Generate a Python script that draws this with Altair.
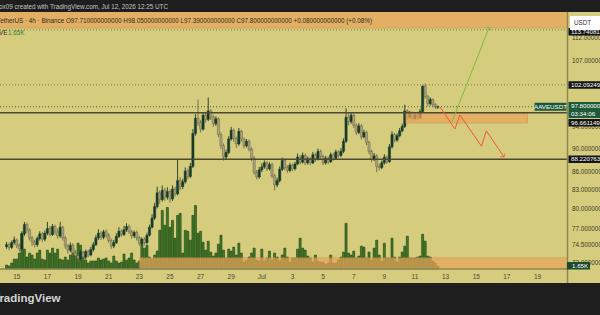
import altair as alt
import pandas as pd

# ---------------- data ----------------
first_open = 74.3
closes = [
    74.6, 74.2, 74.9, 75.3,
    74.5, 74.0, 76.2, 77.6, 76.8, 75.6,
    75.0, 74.6, 75.5, 76.2, 75.4, 76.3,
    77.0, 76.1, 77.3, 76.5, 75.9, 77.2,
    75.6, 74.4, 73.8, 74.5, 73.4, 73.0,
    72.6, 73.5, 72.8, 73.6, 73.1, 73.9,
    74.6, 75.6, 76.3, 75.7, 76.5, 76.0,
    75.2, 74.4, 74.9, 75.8, 76.6, 76.1,
    76.8, 77.3, 76.5, 75.9, 76.4, 75.6,
    74.8, 75.4, 74.9, 76.0, 77.2, 78.6,
    80.4, 82.6, 81.5, 83.0, 81.9, 82.8,
    81.6, 83.2, 82.4, 84.6, 83.6, 84.4,
    86.2, 85.3, 87.0, 92.8, 95.6, 94.8,
    93.6, 96.2, 95.4, 97.0, 95.8, 94.6,
    95.5, 92.6, 90.6, 88.6, 89.4, 91.8,
    93.4, 91.9, 90.9, 93.2, 91.8, 90.6,
    91.4, 90.0, 88.4, 86.0, 85.2, 86.4,
    86.9, 87.6, 86.6, 87.3, 85.4, 83.9,
    84.6, 86.5, 88.0, 86.8, 86.3, 87.2,
    86.6, 87.4, 88.6, 87.7, 88.9, 87.6,
    88.3, 87.6, 89.0, 88.2, 89.6, 88.7,
    87.6, 88.4, 87.8, 89.0, 88.4, 89.5,
    88.9, 89.6, 91.4, 95.8, 95.0, 96.2,
    94.3, 93.0, 94.2, 92.2, 93.0, 91.2,
    89.6, 88.2, 88.8, 87.0, 86.8, 87.6,
    88.6, 87.8, 90.4, 92.6, 91.6, 92.4,
    93.3, 94.1, 97.0, 95.8, 96.6, 95.6,
    96.3, 95.7, 96.9, 101.8, 99.8, 98.4,
    99.2, 98.2, 97.71, 97.80,
]
highs = [
    75.0, 74.9, 75.2, 75.8,
    75.5, 74.8, 76.6, 78.0, 77.9, 77.0,
    75.9, 75.3, 75.8, 76.6, 76.5, 76.7,
    78.0, 77.4, 77.7, 77.6, 77.0, 78.0,
    77.4, 75.9, 74.7, 74.9, 74.8, 73.8,
    73.3, 73.8, 73.7, 73.9, 73.9, 74.3,
    75.0, 76.0, 76.9, 76.6, 76.8, 76.9,
    76.3, 75.5, 75.3, 76.3, 77.2, 76.9,
    77.4, 77.8, 77.6, 76.8, 76.7, 76.7,
    75.9, 75.7, 75.7, 76.4, 77.6, 79.2,
    81.0, 83.6, 83.0, 83.8, 83.4, 83.5,
    83.1, 83.8, 83.6, 88.2, 85.2, 84.9,
    86.8, 86.6, 87.6, 93.6, 96.4, 99.2,
    95.3, 96.8, 96.7, 99.6, 97.4, 96.2,
    96.0, 95.8, 93.0, 91.0, 89.9, 92.3,
    94.0, 93.7, 92.2, 93.8, 93.5, 92.1,
    91.8, 91.7, 90.3, 88.8, 86.4, 86.9,
    87.5, 88.0, 87.9, 87.7, 87.6, 85.7,
    85.1, 87.0, 88.5, 88.3, 87.2, 87.6,
    87.5, 87.8, 89.2, 88.9, 89.4, 89.2,
    88.7, 88.6, 89.5, 89.3, 90.1, 89.9,
    89.0, 88.8, 88.7, 89.4, 89.3, 89.9,
    89.8, 90.2, 91.9, 97.5, 96.6, 96.8,
    96.5, 94.6, 94.7, 94.5, 93.5, 93.3,
    91.5, 89.9, 89.3, 89.1, 87.5, 88.0,
    89.1, 88.9, 90.9, 93.2, 92.9, 92.8,
    93.8, 94.6, 98.2, 97.3, 97.0, 96.9,
    96.7, 96.6, 97.4, 102.0, 102.4, 100.1,
    99.6, 99.4, 98.5, 98.05,
]
lows = [
    74.0, 73.8, 74.0, 74.6,
    74.1, 73.6, 73.8, 75.9, 76.3, 75.2,
    74.4, 74.2, 74.3, 75.2, 75.0, 75.1,
    76.0, 75.8, 75.9, 76.1, 75.5, 75.6,
    75.2, 74.0, 73.3, 73.5, 73.0, 72.5,
    72.0, 72.3, 72.3, 72.5, 72.8, 72.9,
    73.6, 74.4, 75.3, 75.3, 75.4, 75.6,
    74.9, 74.0, 74.1, 74.7, 75.6, 75.8,
    75.9, 76.5, 76.2, 75.5, 75.6, 75.2,
    74.4, 74.5, 74.5, 74.7, 75.8, 77.0,
    78.3, 80.1, 80.8, 81.2, 81.3, 81.5,
    81.0, 81.3, 82.0, 82.2, 83.0, 83.2,
    84.1, 84.8, 85.0, 86.7, 92.4, 94.2,
    93.0, 93.3, 94.8, 95.1, 95.3, 94.0,
    94.2, 92.1, 90.0, 88.0, 88.2, 89.1,
    91.5, 91.3, 90.2, 90.6, 91.3, 90.1,
    90.3, 89.6, 87.9, 85.6, 84.8, 84.9,
    86.0, 86.6, 86.2, 86.3, 85.0, 83.0,
    83.5, 84.3, 86.2, 86.4, 85.9, 86.0,
    86.2, 86.3, 87.2, 87.3, 87.5, 87.2,
    87.3, 87.2, 87.4, 87.8, 88.0, 88.3,
    87.2, 87.3, 87.4, 87.6, 88.0, 88.2,
    88.5, 88.6, 89.3, 91.1, 94.3, 94.6,
    93.8, 92.5, 92.7, 91.7, 91.9, 90.7,
    89.1, 87.7, 87.9, 86.0, 86.3, 86.5,
    87.3, 87.4, 87.6, 90.1, 91.2, 91.3,
    92.1, 93.0, 93.8, 95.3, 95.4, 95.2,
    95.3, 95.3, 95.5, 96.7, 99.4, 97.9,
    98.0, 97.8, 97.4, 97.39,
]
volumes_k = [
    2.4, 1.8, 3.6, 6.0,
    6.0, 9.6, 21.6, 12.0, 7.2, 9.6,
    8.4, 6.0, 9.6, 11.4, 6.0, 5.4,
    11.4, 9.6, 12.6, 9.6, 12.0, 6.0,
    5.4, 7.2, 5.4, 8.4, 12.6, 8.4,
    15.6, 14.4, 7.2, 5.4, 3.6, 4.8,
    4.8, 4.8, 6.6, 5.4, 6.0, 6.6,
    4.8, 3.6, 7.8, 4.8, 3.6, 4.2,
    9.0, 5.4, 6.6, 9.6, 5.4, 3.6,
    4.8, 15.6, 12.6, 14.4, 7.2, 6.0,
    8.4, 10.8, 23.4, 35.4, 26.4, 37.2,
    25.2, 29.4, 18.6, 32.4, 33.6, 9.6,
    23.4, 22.8, 17.4, 32.4, 38.4, 21.6,
    22.8, 16.2, 11.4, 16.8, 10.2, 7.8,
    9.6, 15.0, 20.4, 11.4, 6.6, 12.0,
    10.8, 13.2, 8.4, 15.6, 9.6, 4.2,
    5.4, 7.2, 9.6, 12.6, 5.4, 4.8,
    12.0, 4.8, 6.6, 10.8, 5.4, 9.6,
    7.2, 4.8, 8.4, 12.6, 7.2, 4.2,
    6.6, 6.6, 12.0, 18.6, 12.6, 11.4,
    7.8, 6.6, 4.2, 8.4, 4.8, 4.2,
    4.2, 3.0, 3.6, 8.4, 3.6, 3.6,
    5.4, 7.2, 10.2, 27.6, 9.6, 8.4,
    10.8, 6.6, 7.8, 13.8, 13.2, 6.6,
    10.2, 5.4, 12.6, 17.4, 8.4, 4.8,
    15.6, 6.6, 6.6, 18.6, 7.2, 4.2,
    7.2, 10.2, 13.8, 19.8, 6.6, 6.6,
    6.6, 7.2, 7.8, 21.0, 16.8, 7.8,
    7.2, 4.8, 3.6, 1.65,
]
assert len(closes) == len(highs) == len(lows) == len(volumes_k) == 170
start_time = "2026-06-14 08:00"

price_ticks = [72, 74.5, 77, 80, 83, 86, 90, 94, 107, 112]
date_ticks = ["2026-06-15", "2026-06-17", "2026-06-19", "2026-06-21", "2026-06-23",
              "2026-06-25", "2026-06-27", "2026-06-29", "2026-07-01", "2026-07-03",
              "2026-07-05", "2026-07-07", "2026-07-09", "2026-07-11", "2026-07-13",
              "2026-07-15", "2026-07-17", "2026-07-19"]
date_labels = ["15", "17", "19", "21", "23", "25", "27", "29", "Jul", "3",
               "5", "7", "9", "11", "13", "15", "17", "19"]

solid_levels = [96.6611495, 88.2207631]
dotted_levels = [113.740813, 102.092490]
last_close = 97.80
last_volume_k = 1.65

zone_start = ["2026-06-10T00:00:00Z", "2026-07-10T09:36:00Z", "2026-06-23T00:00:00Z"]
zone_end = ["2026-07-25T00:00:00Z", "2026-07-18T08:24:00Z", "2026-07-25T00:00:00Z"]
zone_low = [114.15, 94.73, 65.0]
zone_high = [135.0, 96.66, 72.7]

red_path_t = ["2026-07-12T15:30:00Z", "2026-07-13T14:40:00Z", "2026-07-13T22:20:00Z",
              "2026-07-15T08:10:00Z", "2026-07-15T15:50:00Z", "2026-07-16T19:40:00Z"]
red_path_p = [97.75, 93.62, 96.24, 90.52, 93.27, 88.6]
green_path_t = ["2026-07-13T10:00:00Z", "2026-07-15T20:30:00Z"]
green_path_p = [94.92, 114.4]

# ---------------- styling ----------------
BG = "#d6cc7e"
ZONE = "#e8a659"
UP = "#173a29"
DOWN_FILL = "#a8a27b"
DOWN_EDGE = "#6d6949"
VOL = "#3f7f28"
VOL_EDGE = "#1c3a11"
FONT = "Liberation Sans"
W, H = 567, 257

t0 = pd.Timestamp("2026-06-14 05:32", tz="UTC").value // 10**6
t1 = pd.Timestamp("2026-07-20 14:24", tz="UTC").value // 10**6
xs = alt.Scale(type="utc", domain=[t0, t1])
ys = alt.Scale(type="log", domain=[71.12, 117.8], nice=False, zero=False)
vs = alt.Scale(domain=[0, 155.4], nice=False, zero=True)

times = pd.date_range(start_time, periods=len(closes), freq="4h")
opens = [first_open] + closes[:-1]
df = pd.DataFrame({
    "t": [t.strftime("%Y-%m-%dT%H:%M:%SZ") for t in times],
    "o": opens, "h": highs, "l": lows, "c": closes, "v": volumes_k,
})
up = df["c"] >= df["o"]
df["fill"] = [UP if u else DOWN_FILL for u in up]
df["edge"] = [UP if u else DOWN_EDGE for u in up]

X = alt.X("t:T", scale=xs, axis=None)
one = pd.DataFrame({"a": [0]})

layers = []

# volume
layers.append(alt.Chart(df).mark_bar(size=2, fill=VOL, stroke=VOL_EDGE, strokeWidth=0.6).encode(
    x=X, y=alt.Y("v:Q", scale=vs, axis=None)))

# candles
layers.append(alt.Chart(df).mark_rule(strokeWidth=0.9).encode(
    x=X, y=alt.Y("l:Q", scale=ys, axis=None), y2="h:Q",
    color=alt.Color("edge:N", scale=None)))
layers.append(alt.Chart(df).mark_bar(size=2.2, strokeWidth=0.5).encode(
    x=X, y=alt.Y("o:Q", scale=ys, axis=None), y2="c:Q",
    fill=alt.Fill("fill:N", scale=None), stroke=alt.Stroke("edge:N", scale=None)))

# zones
zdf = pd.DataFrame({"s": zone_start, "e": zone_end, "lo": zone_low, "hi": zone_high})
layers.append(alt.Chart(zdf).mark_rect(clip=True, color=ZONE, opacity=0.72,
                                       stroke="#c08a4c", strokeWidth=0.6).encode(
    x=alt.X("s:T", scale=xs, axis=None), x2="e:T",
    y=alt.Y("lo:Q", scale=ys, axis=None), y2="hi:Q"))

# horizontal levels
layers.append(alt.Chart(pd.DataFrame({"p": solid_levels})).mark_rule(
    color="#4b4833", strokeWidth=1.4).encode(
    y=alt.Y("p:Q", scale=ys, axis=None), x=alt.value(0), x2=alt.value(W)))
layers.append(alt.Chart(pd.DataFrame({"p": dotted_levels})).mark_rule(
    color="#7c7858", strokeWidth=1, strokeDash=[1, 2]).encode(
    y=alt.Y("p:Q", scale=ys, axis=None), x=alt.value(0), x2=alt.value(W)))
layers.append(alt.Chart(pd.DataFrame({"p": [last_close]})).mark_rule(
    color="#4f5d45", strokeWidth=1, strokeDash=[1, 2]).encode(
    y=alt.Y("p:Q", scale=ys, axis=None), x=alt.value(0), x2=alt.value(W)))

# projected paths
red = pd.DataFrame({"t": red_path_t, "p": red_path_p, "k": range(len(red_path_t))})
green = pd.DataFrame({"t": green_path_t, "p": green_path_p, "k": range(len(green_path_t))})
layers.append(alt.Chart(green).mark_line(color="#7cbc3a", strokeWidth=1).encode(
    x=alt.X("t:T", scale=xs, axis=None), y=alt.Y("p:Q", scale=ys, axis=None), order="k:Q"))
layers.append(alt.Chart(red).mark_line(color="#f0583a", strokeWidth=1).encode(
    x=alt.X("t:T", scale=xs, axis=None), y=alt.Y("p:Q", scale=ys, axis=None), order="k:Q"))
CHEVRON = "M-1,0.9L0,0L1,0.9"
layers.append(alt.Chart(green.tail(1)).mark_point(shape=CHEVRON, filled=False, size=36,
                                                  angle=22, color="#7cbc3a", strokeWidth=1).encode(
    x=alt.X("t:T", scale=xs, axis=None), y=alt.Y("p:Q", scale=ys, axis=None)))
layers.append(alt.Chart(red.tail(1)).mark_point(shape=CHEVRON, filled=False, size=36,
                                                angle=145, color="#f0583a", strokeWidth=1).encode(
    x=alt.X("t:T", scale=xs, axis=None), y=alt.Y("p:Q", scale=ys, axis=None)))

# frame lines
layers.append(alt.Chart(one).mark_rule(color="#8e8654", strokeWidth=1.5).encode(
    x=alt.value(W + 0.5), y=alt.value(0), y2=alt.value(271)))
layers.append(alt.Chart(one).mark_rule(color="#8e8654", strokeWidth=1.5).encode(
    x=alt.value(0), x2=alt.value(W), y=alt.value(H)))

# right price scale labels
layers.append(alt.Chart(pd.DataFrame({"p": price_ticks,
                                      "lab": [f"{p:.7f}" for p in price_ticks]})).mark_text(
    align="left", baseline="middle", font=FONT, fontSize=6.3, color="#3b3a2c").encode(
    y=alt.Y("p:Q", scale=ys, axis=None), x=alt.value(572), text="lab:N"))

# bottom date labels
layers.append(alt.Chart(pd.DataFrame({"d": [d + "T00:00:00Z" for d in date_ticks],
                                      "lab": date_labels})).mark_text(
    align="center", baseline="middle", font=FONT, fontSize=6.5, color="#4a4735").encode(
    x=alt.X("d:T", scale=xs, axis=None), y=alt.value(H + 8), text="lab:N"))


def box(price, scale, cx, width, height, color, yoff=0):
    half = (height / 2) / (width / 2)
    path = f"M-1,-{half:.3f}L1,-{half:.3f}L1,{half:.3f}L-1,{half:.3f}Z"
    return alt.Chart(pd.DataFrame({"p": [price]})).mark_point(
        shape=path, filled=True, size=width * width, color=color, opacity=1, yOffset=yoff).encode(
        y=alt.Y("p:Q", scale=scale, axis=None), x=alt.value(cx))


def label(price, scale, x, txt, color="white", yoff=0, align="left", size=6.2):
    return alt.Chart(pd.DataFrame({"p": [price], "s": [txt]})).mark_text(
        align=align, baseline="middle", font=FONT, fontSize=size, color=color, yOffset=yoff).encode(
        y=alt.Y("p:Q", scale=scale, axis=None), x=alt.value(x), text="s:N")


# price boxes on the scale
layers.append(box(dotted_levels[0], ys, 584.5, 32, 7.5, "#141414", yoff=2))
layers.append(label(dotted_levels[0], ys, 571, "113.740813", yoff=2))
layers.append(box(dotted_levels[1], ys, 584.5, 32, 7.5, "#141414"))
layers.append(label(dotted_levels[1], ys, 571, "102.092490"))
layers.append(box(last_close, ys, 584.5, 32, 16, "#1e5a3a", yoff=3.2))
layers.append(label(last_close, ys, 571, "97.8000000", yoff=-0.5))
layers.append(label(last_close, ys, 571, "03:34:06", yoff=7))
layers.append(box(last_close, ys, 550.5, 32, 8, "#1e5a3a"))
layers.append(label(last_close, ys, 550.5, "AAVEUSDT", align="center"))
layers.append(box(solid_levels[0], ys, 584.5, 32, 7.5, "#141414", yoff=10))
layers.append(label(solid_levels[0], ys, 571, "96.6611495", yoff=10))
layers.append(box(solid_levels[1], ys, 584.5, 32, 7.5, "#141414"))
layers.append(label(solid_levels[1], ys, 571, "88.2207631"))
layers.append(box(last_volume_k, vs, 578.5, 23, 7.5, "#1c4a2c", yoff=-0.5))
layers.append(label(last_volume_k, vs, 572, "1.65K", yoff=-0.5))

# header and footer
layers.append(alt.Chart(one).mark_rect(color="#1e1e1e").encode(
    x=alt.value(0), x2=alt.value(600), y=alt.value(-12), y2=alt.value(0)))
layers.append(alt.Chart(one).mark_text(align="left", baseline="middle", font=FONT,
                                       fontSize=6.3, color="#c4c4c4").encode(
    x=alt.value(-1), y=alt.value(-5),
    text=alt.value("ox09 created with TradingView.com, Jul 12, 2026 12:25 UTC")))
layers.append(alt.Chart(one).mark_text(align="left", baseline="middle", font=FONT,
                                       fontSize=6.3, color="#2a2a22").encode(
    x=alt.value(-3), y=alt.value(9),
    text=alt.value("TetherUS · 4h · Binance   O97.710000000000   H98.050000000000   "
                   "L97.390000000000   C97.800000000000   +0.080000000000 (+0.08%)")))
layers.append(alt.Chart(one).mark_text(align="left", baseline="middle", font=FONT,
                                       fontSize=6.3, color="#2a2a22").encode(
    x=alt.value(-1), y=alt.value(21), text=alt.value("VE")))
layers.append(alt.Chart(one).mark_text(align="left", baseline="middle", font=FONT,
                                       fontSize=6.3, color="#2e7d32").encode(
    x=alt.value(8), y=alt.value(21), text=alt.value("1.65K")))
layers.append(alt.Chart(one).mark_rect(color="white", cornerRadius=1).encode(
    x=alt.value(570), x2=alt.value(601), y=alt.value(4), y2=alt.value(18)))
layers.append(alt.Chart(one).mark_text(align="left", baseline="middle", font=FONT,
                                       fontSize=6.3, color="#333333").encode(
    x=alt.value(574), y=alt.value(11), text=alt.value("USDT")))
layers.append(alt.Chart(one).mark_rect(color="#1e1e1e").encode(
    x=alt.value(0), x2=alt.value(600), y=alt.value(271), y2=alt.value(303)))
layers.append(alt.Chart(one).mark_text(align="left", baseline="middle", font=FONT,
                                       fontSize=11.5, fontWeight="bold", color="#d4d4d4").encode(
    x=alt.value(-7), y=alt.value(287), text=alt.value("TradingView")))

chart = alt.layer(*layers).resolve_scale(y="independent").properties(
    width=W, height=H,
    padding={"left": 0, "top": 12, "right": 33, "bottom": 46},
    autosize=alt.AutoSizeParams(type="none"),
    background=BG,
).configure_view(stroke=None, fill=BG)

chart.save("out.html", embed_options={"renderer": "svg", "actions": False})
